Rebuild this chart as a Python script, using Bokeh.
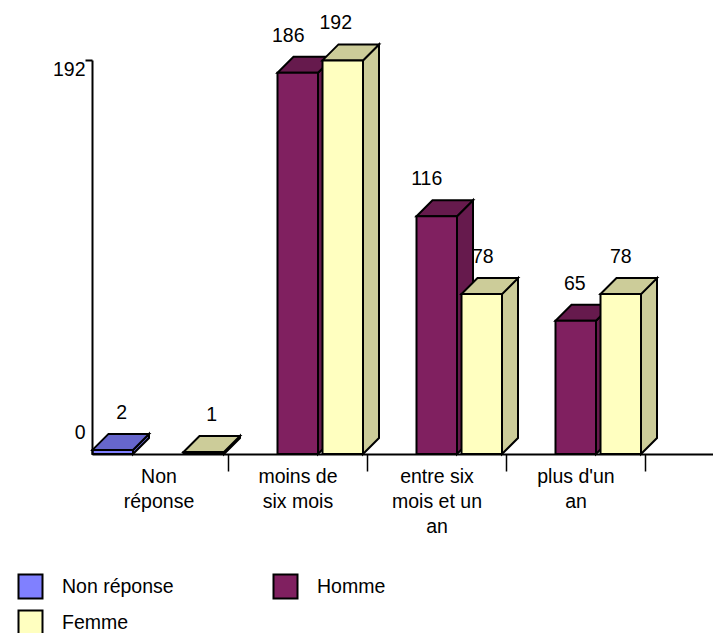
from bokeh.plotting import figure
from bokeh.models import (ColumnDataSource, Range1d, LinearAxis, FixedTicker, Legend, LegendItem)
from bokeh.core.properties import value
from bokeh.embed import file_html
from bokeh.resources import INLINE

categories = ["Non\nréponse", "moins de\nsix mois", "entre six\nmois et un\nan", "plus d'un\nan"]
series_names = ["Non réponse", "Homme", "Femme"]
non_reponse = [2, 0, 0, 0]
homme = [0, 186, 116, 65]
femme = [1, 192, 78, 78]
y_tick_values = [0, 192]

front_colors = ["#8080FF", "#802060", "#FFFFC0"]
shade_colors = ["#6666CC", "#661A4D", "#CCCC99"]

FONT = "Liberation Sans"
FS = "19.5px"
W, H = 713, 633
PX_CAT = 139.0        # pixels per category
PX_VAL = 2.05         # pixels per value unit
X0_PX = 158.5         # frame x of the centre of category 0
Y0_PX = 453.5         # frame y of value 0
BAR_W = 40.5 / PX_CAT
DX = 16 / PX_CAT
DY = 16 / PX_VAL
OFFS = [-66.5 / PX_CAT, -20.5 / PX_CAT, 24.5 / PX_CAT]
AXIS_X = OFFS[0]

x_range = Range1d(-X0_PX / PX_CAT, (W - X0_PX) / PX_CAT)
y_range = Range1d(-(H - Y0_PX) / PX_VAL, Y0_PX / PX_VAL)

p = figure(width=W, height=H, x_range=x_range, y_range=y_range,
           x_axis_type=None, y_axis_type=None, output_backend="svg",
           toolbar_location=None, min_border=0, outline_line_color=None)
p.grid.visible = False
p.background_fill_color = "white"


def faces(vals, off):
    front_x, front_y, top_x, top_y, side_x, side_y = [], [], [], [], [], []
    for i, v in enumerate(vals):
        if v <= 0:
            continue
        l = i + off
        r = l + BAR_W
        front_x.append([l, r, r, l])
        front_y.append([0, 0, v, v])
        top_x.append([l, r, r + DX, l + DX])
        top_y.append([v, v, v + DY, v + DY])
        side_x.append([r, r + DX, r + DX, r])
        side_y.append([0, DY, v + DY, v])
    return front_x, front_y, top_x, top_y, side_x, side_y


front_renderers = []
for vals, off, fc, sc in zip([non_reponse, homme, femme], OFFS, front_colors, shade_colors):
    fx, fy, tx, ty, sx, sy = faces(vals, off)
    style = dict(line_color="black", line_width=2, line_join="miter")
    p.patches(sx, sy, fill_color=sc, **style)
    p.patches(tx, ty, fill_color=sc, **style)
    front_renderers.append(p.patches(fx, fy, fill_color=fc, **style))

# axes
y_ticks = [y_tick_values[1]]
yaxis = LinearAxis(fixed_location=AXIS_X, ticker=FixedTicker(ticks=y_ticks),
                   bounds=(y_tick_values[0], y_tick_values[1]),
                   axis_line_width=2, major_tick_line_width=2, major_tick_in=0, major_tick_out=7,
                   minor_tick_line_color=None,
                   major_label_overrides={t: "" for t in y_ticks})
p.add_layout(yaxis, "left")

x_ticks = [i + 0.5 for i in range(len(categories))]
xaxis = LinearAxis(fixed_location=0, ticker=FixedTicker(ticks=x_ticks),
                   bounds=(AXIS_X, x_range.end),
                   axis_line_width=2, major_tick_line_width=1.5, major_tick_in=0, major_tick_out=17,
                   minor_tick_line_color=None,
                   major_label_overrides={t: "" for t in x_ticks})
p.add_layout(xaxis, "below")

label_axis = LinearAxis(fixed_location=0, ticker=FixedTicker(ticks=list(range(len(categories)))),
                        axis_line_color=None, major_tick_line_color=None, minor_tick_line_color=None,
                        major_tick_in=0, major_tick_out=0,
                        major_label_overrides={i: c for i, c in enumerate(categories)},
                        major_label_standoff=11, major_label_text_font=FONT,
                        major_label_text_font_size=FS, major_label_text_color="black",
                        major_label_text_line_height=1.13)
p.add_layout(label_axis, "below")

# y tick labels
p.text(x=[AXIS_X] * 2, y=y_tick_values, text=[str(v) for v in y_tick_values],
       x_offset=-7, y_offset=[-22, 9], text_align="right", text_baseline="middle",
       text_font=value(FONT), text_font_size=FS, text_color="black")

# value labels
lx, ly, lt, ldx = [], [], [], []
nudge = {(0, 0): 9, (0, 2): 8, (1, 1): -9.5, (1, 2): -7, (2, 1): -10, (2, 2): 1, (3, 1): -1, (3, 2): 0}
for s, (vals, off) in enumerate(zip([non_reponse, homme, femme], OFFS)):
    for i, v in enumerate(vals):
        if v > 0:
            lx.append(i + off + BAR_W / 2)
            ly.append(v)
            lt.append(str(v))
            ldx.append(nudge[(i, s)])
lsrc = ColumnDataSource(dict(x=lx, y=ly, t=lt, dx=ldx))
p.text(x="x", y="y", text="t", x_offset="dx", y_offset=-38, source=lsrc,
       text_align="center", text_baseline="middle",
       text_font=value(FONT), text_font_size=FS, text_color="black")

legend = Legend(items=[LegendItem(label=n, renderers=[r]) for n, r in zip(series_names, front_renderers)],
                orientation="horizontal", ncols=2, location=(15, -4), padding=0, margin=0, spacing=6,
                glyph_width=30, glyph_height=30, label_standoff=17, label_width=202, label_height=30,
                border_line_color=None, background_fill_alpha=0,
                label_text_font=FONT, label_text_font_size=FS, label_text_color="black",
                click_policy="none")
p.add_layout(legend)

open("out.html", "w").write(file_html(p, INLINE))
